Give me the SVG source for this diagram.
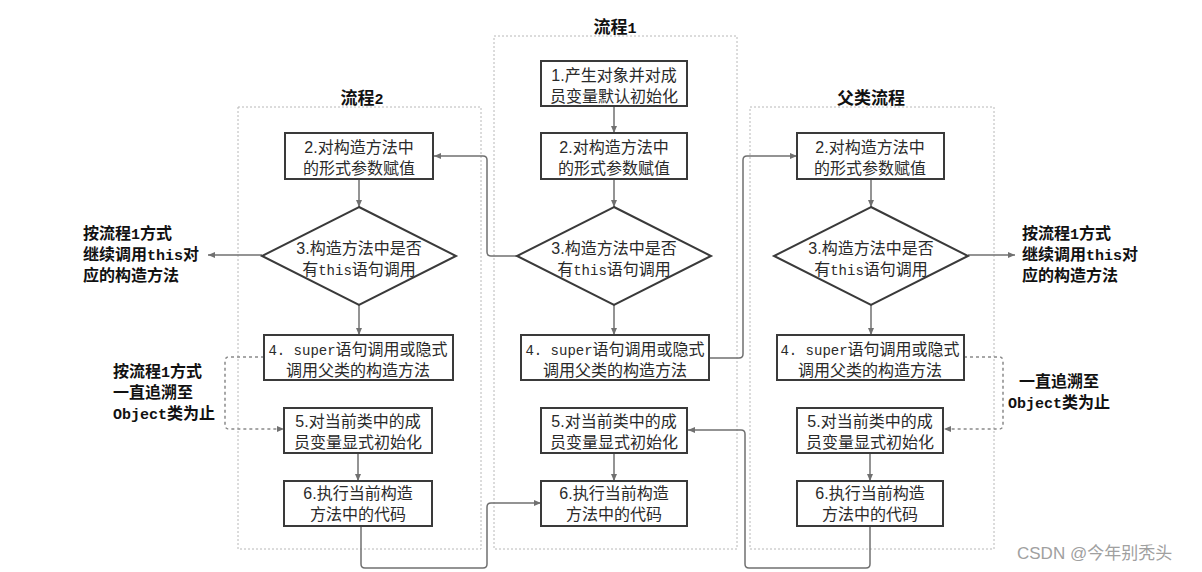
<svg xmlns="http://www.w3.org/2000/svg" width="1202" height="572" viewBox="0 0 1202 572">
<style>
.panel{fill:none;stroke:#b8b8b8;stroke-width:1;stroke-dasharray:2 2}
.box{fill:#fff;stroke:#3a3a3a;stroke-width:2}
.t{font-family:"Liberation Sans","Noto Sans CJK SC",sans-serif;font-size:16px;fill:#2a2a2a;text-anchor:middle}
.m{font-family:"Liberation Mono",monospace;font-size:14px}
.b{font-family:"Liberation Sans","Noto Sans CJK SC",sans-serif;font-size:16px;font-weight:bold;fill:#111}
.h{font-family:"Liberation Sans","Noto Sans CJK SC",sans-serif;font-size:17px;font-weight:bold;fill:#111;text-anchor:middle}
.bm{font-family:"Liberation Mono",monospace;font-size:15px;font-weight:bold}
.c{fill:none;stroke:#707070;stroke-width:1.5}
.d{fill:none;stroke:#8a8a8a;stroke-width:1.5;stroke-dasharray:3 3}
.wm{font-family:"Liberation Sans","Noto Sans CJK SC",sans-serif;font-size:17px;fill:#a0a0a0}
</style>
<defs>
<marker id="ah" markerWidth="8" markerHeight="8" refX="7" refY="4" orient="auto" markerUnits="userSpaceOnUse">
<path d="M0,1 L7,4 L0,7 z" fill="#707070"/>
</marker>
</defs>
<rect width="1202" height="572" fill="#fff"/>

<g id="panels">
<rect class="panel" x="238" y="107" width="243" height="442"/>
<rect class="panel" x="494" y="36" width="243" height="513"/>
<rect class="panel" x="750" y="107" width="244" height="442"/>
<text class="h" x="362" y="104">流程<tspan class="bm">2</tspan></text>
<text class="h" x="615" y="33">流程<tspan class="bm">1</tspan></text>
<text class="h" x="871" y="104">父类流程</text>
</g>

<g id="connectors">
<path class="c" d="M614 106 V133" marker-end="url(#ah)"/>
<path class="c" d="M614 179 V207" marker-end="url(#ah)"/>
<path class="c" d="M614 305 V335" marker-end="url(#ah)"/>
<path class="c" d="M517 256 H491 Q487 256 487 252 V160 Q487 156 483 156 H434" marker-end="url(#ah)"/>
<path class="c" d="M359 179 V207" marker-end="url(#ah)"/>
<path class="c" d="M262 255 H208" marker-end="url(#ah)"/>
<path class="c" d="M359 305 V335" marker-end="url(#ah)"/>
<path class="d" d="M264 357 H229 Q225 357 225 361 V425 Q225 429 229 429 H284" marker-end="url(#ah)"/>
<path class="c" d="M358 453 V481" marker-end="url(#ah)"/>
<path class="c" d="M361 526 V564 Q361 568 365 568 H483 Q487 568 487 564 V507 Q487 503 491 503 H541" marker-end="url(#ah)"/>
<path class="c" d="M709 358 H739 Q743 358 743 354 V160 Q743 156 747 156 H797" marker-end="url(#ah)"/>
<path class="c" d="M871 179 V207" marker-end="url(#ah)"/>
<path class="c" d="M968 255 H1015" marker-end="url(#ah)"/>
<path class="c" d="M871 305 V335" marker-end="url(#ah)"/>
<path class="d" d="M964 357 H999 Q1003 357 1003 361 V425 Q1003 429 999 429 H944" marker-end="url(#ah)"/>
<path class="c" d="M870 453 V481" marker-end="url(#ah)"/>
<path class="c" d="M870 526 V564 Q870 568 866 568 H749 Q745 568 745 564 V434 Q745 430 741 430 H688" marker-end="url(#ah)"/>
<path class="c" d="M614 453 V481" marker-end="url(#ah)"/>
</g>

<g id="f1-step1">
<rect class="box" x="541" y="61" width="146" height="45"/>
<text class="t"><tspan x="614" y="81">1.产生对象并对成</tspan><tspan x="614" y="102">员变量默认初始化</tspan></text>
</g>
<g id="f1-step2">
<rect class="box" x="541" y="133" width="146" height="46"/>
<text class="t"><tspan x="614" y="153">2.对构造方法中</tspan><tspan x="614" y="174">的形式参数赋值</tspan></text>
</g>
<g id="f1-step3">
<polygon class="box" points="614,207 711,256 614,305 517,256"/>
<text class="t"><tspan x="614" y="254">3.构造方法中是否</tspan><tspan x="614" y="275">有<tspan class="m">this</tspan>语句调用</tspan></text>
</g>
<g id="f1-step4">
<rect class="box" x="521" y="335" width="188" height="45"/>
<text class="t"><tspan x="615" y="355"><tspan class="m">4. super</tspan>语句调用或隐式</tspan><tspan x="615" y="376">调用父类的构造方法</tspan></text>
</g>
<g id="f1-step5">
<rect class="box" x="541" y="408" width="146" height="45"/>
<text class="t"><tspan x="614" y="427">5.对当前类中的成</tspan><tspan x="614" y="448">员变量显式初始化</tspan></text>
</g>
<g id="f1-step6">
<rect class="box" x="541" y="481" width="146" height="45"/>
<text class="t"><tspan x="614" y="499">6.执行当前构造</tspan><tspan x="614" y="520">方法中的代码</tspan></text>
</g>

<g id="f2-step2">
<rect class="box" x="285" y="133" width="148" height="46"/>
<text class="t"><tspan x="359" y="153">2.对构造方法中</tspan><tspan x="359" y="174">的形式参数赋值</tspan></text>
</g>
<g id="f2-step3">
<polygon class="box" points="359,207 456,256 359,305 262,256"/>
<text class="t"><tspan x="359" y="254">3.构造方法中是否</tspan><tspan x="359" y="275">有<tspan class="m">this</tspan>语句调用</tspan></text>
</g>
<g id="f2-step4">
<rect class="box" x="264" y="335" width="189" height="45"/>
<text class="t"><tspan x="358" y="355"><tspan class="m">4. super</tspan>语句调用或隐式</tspan><tspan x="358" y="376">调用父类的构造方法</tspan></text>
</g>
<g id="f2-step5">
<rect class="box" x="284" y="408" width="148" height="45"/>
<text class="t"><tspan x="358" y="427">5.对当前类中的成</tspan><tspan x="358" y="448">员变量显式初始化</tspan></text>
</g>
<g id="f2-step6">
<rect class="box" x="284" y="481" width="148" height="45"/>
<text class="t"><tspan x="358" y="499">6.执行当前构造</tspan><tspan x="358" y="520">方法中的代码</tspan></text>
</g>

<g id="p-step2">
<rect class="box" x="797" y="133" width="147" height="46"/>
<text class="t"><tspan x="870" y="153">2.对构造方法中</tspan><tspan x="870" y="174">的形式参数赋值</tspan></text>
</g>
<g id="p-step3">
<polygon class="box" points="871,207 968,256 871,305 774,256"/>
<text class="t"><tspan x="871" y="254">3.构造方法中是否</tspan><tspan x="871" y="275">有<tspan class="m">this</tspan>语句调用</tspan></text>
</g>
<g id="p-step4">
<rect class="box" x="777" y="335" width="187" height="45"/>
<text class="t"><tspan x="870" y="355"><tspan class="m">4. super</tspan>语句调用或隐式</tspan><tspan x="870" y="376">调用父类的构造方法</tspan></text>
</g>
<g id="p-step5">
<rect class="box" x="797" y="408" width="146" height="45"/>
<text class="t"><tspan x="870" y="427">5.对当前类中的成</tspan><tspan x="870" y="448">员变量显式初始化</tspan></text>
</g>
<g id="p-step6">
<rect class="box" x="797" y="481" width="146" height="45"/>
<text class="t"><tspan x="870" y="499">6.执行当前构造</tspan><tspan x="870" y="520">方法中的代码</tspan></text>
</g>

<g id="note-left-this">
<text class="b"><tspan x="83" y="239">按流程<tspan class="bm">1</tspan>方式</tspan><tspan x="83" y="260">继续调用<tspan class="bm">this</tspan>对</tspan><tspan x="83" y="281">应的构造方法</tspan></text>
</g>
<g id="note-right-this">
<text class="b"><tspan x="1022" y="239">按流程<tspan class="bm">1</tspan>方式</tspan><tspan x="1022" y="260">继续调用<tspan class="bm">this</tspan>对</tspan><tspan x="1022" y="281">应的构造方法</tspan></text>
</g>
<g id="note-left-object">
<text class="b"><tspan x="113" y="377">按流程<tspan class="bm">1</tspan>方式</tspan><tspan x="113" y="398">一直追溯至</tspan><tspan x="113" y="419"><tspan class="bm">Object</tspan>类为止</tspan></text>
</g>
<g id="note-right-object">
<text class="b" text-anchor="middle"><tspan x="1059" y="387">一直追溯至</tspan><tspan x="1059" y="408"><tspan class="bm">Object</tspan>类为止</tspan></text>
</g>

<text class="wm" x="1017" y="559">CSDN @今年别秃头</text>
</svg>
